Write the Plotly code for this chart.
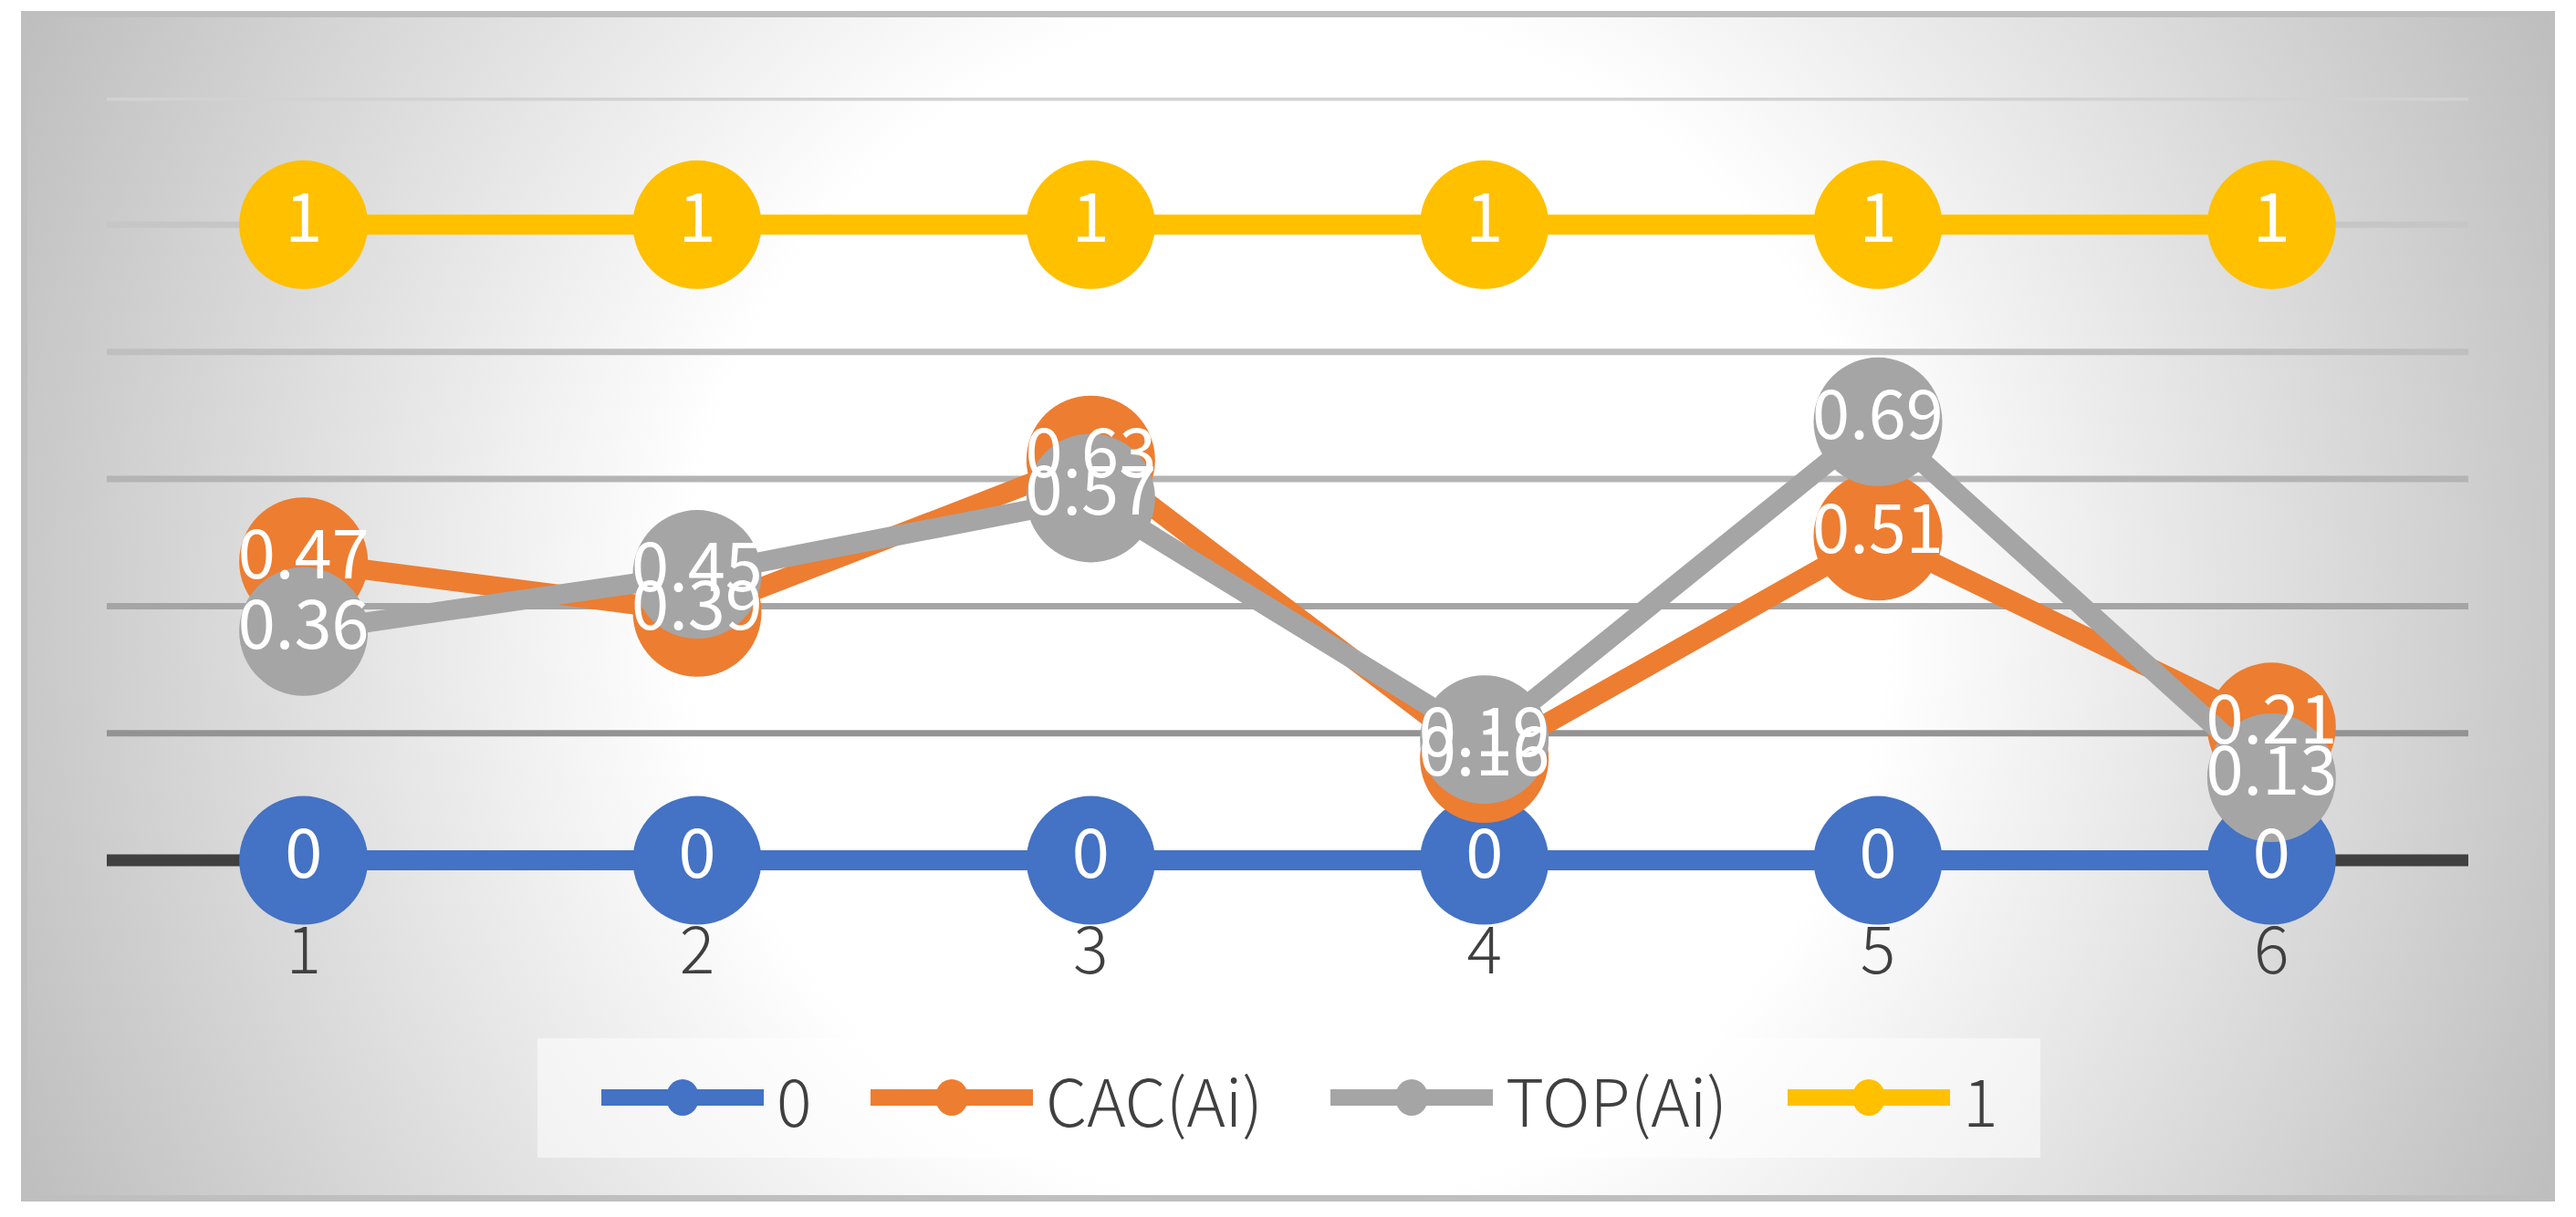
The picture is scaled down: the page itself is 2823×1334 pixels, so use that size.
import base64
import plotly.graph_objects as go

# ---- data ----
categories = ["1", "2", "3", "4", "5", "6"]
series_names = ["0", "CAC(Ai)", "TOP(Ai)", "1"]
zero_vals = [0, 0, 0, 0, 0, 0]
cac_vals = [0.47, 0.39, 0.63, 0.16, 0.51, 0.21]
top_vals = [0.36, 0.45, 0.57, 0.19, 0.69, 0.13]
one_vals = [1, 1, 1, 1, 1, 1]
y_ticks = [0, 0.2, 0.4, 0.6, 0.8, 1.0, 1.2]

series_values = [zero_vals, cac_vals, top_vals, one_vals]
series_colors = ["#4472C4", "#ED7D31", "#A5A5A5", "#FFC000"]
grid_colors = ["#404040", "#939393", "#a5a5a5", "#b4b4b4", "#bfbfbf", "#c6c6c6", "#d2d2d2"]

W, H = 2823, 1334
Y_LOW = -0.03          # small headroom below 0 so the 0-series line is not clipped
UNIT_PX = 697          # pixels per 1.0 on the value axis
ML, MR, MT = 117, 118, 107
MB = 391 - round(-Y_LOW * UNIT_PX)
PW, PH = W - ML - MR, H - MT - MB
FONT = "Noto Sans CJK SC"


def px_x(px):
    return (px - ML) / PW


def px_y(py):
    return (H - MB - py) / PH


svg = f'''<svg xmlns="http://www.w3.org/2000/svg" width="{W}" height="{H}" viewBox="0 0 {W} {H}">
<defs><radialGradient id="g" cx="1411" cy="665" r="1527" gradientUnits="userSpaceOnUse">
<stop offset="0" stop-color="#ffffff"/><stop offset="0.43" stop-color="#ffffff"/>
<stop offset="1" stop-color="#bebebe"/></radialGradient></defs>
<rect x="0" y="0" width="{W}" height="{H}" fill="#ffffff"/>
<rect x="26.5" y="15.5" width="2770" height="1298" fill="url(#g)" stroke="#bfbfbf" stroke-width="7"/>
</svg>'''
bg_uri = "data:image/svg+xml;base64," + base64.b64encode(svg.encode()).decode()

fig = go.Figure()

for name, vals, col in zip(series_names, series_values, series_colors):
    fig.add_trace(go.Scatter(
        x=categories, y=vals, name=name, mode="lines+markers",
        line=dict(color=col, width=22),
        marker=dict(color=col, size=141, line=dict(width=0)),
        cliponaxis=False, showlegend=False,
    ))

for name, vals in zip(series_names, series_values):
    fig.add_trace(go.Scatter(
        x=categories, y=vals, mode="text", showlegend=False,
        text=[f"{v:g}" for v in vals], textposition="middle center",
        textfont=dict(family=FONT, size=74, color="#ffffff"),
        cliponaxis=False, hoverinfo="skip",
    ))

# gridlines and category axis line
for tv, gc in zip(y_ticks, grid_colors):
    fig.add_shape(type="line", xref="paper", x0=0, x1=1, yref="y", y0=tv, y1=tv,
                  line=dict(color=gc, width=13 if tv == 0 else 7), layer="below")

fig.add_layout_image(dict(
    source=bg_uri, xref="paper", yref="paper",
    x=-ML / PW, y=(H - MB) / PH, sizex=W / PW, sizey=H / PH,
    xanchor="left", yanchor="top", sizing="stretch", layer="below",
))

# ---- custom legend ----
leg_box = (589, 1138, 2236, 1269)
leg_cy = 1203
leg_sym_left = [659, 954, 1458, 1959]
leg_sym_w = 178
fig.add_shape(type="rect", xref="paper", yref="paper",
              x0=px_x(leg_box[0]), x1=px_x(leg_box[2]),
              y0=px_y(leg_box[3]), y1=px_y(leg_box[1]),
              fillcolor="rgba(255,255,255,0.5)", line=dict(width=0), layer="below")
for name, col, sx in zip(series_names, series_colors, leg_sym_left):
    fig.add_shape(type="line", xref="paper", yref="paper",
                  x0=px_x(sx), x1=px_x(sx + leg_sym_w), y0=px_y(leg_cy), y1=px_y(leg_cy),
                  line=dict(color=col, width=18), layer="above")
    fig.add_shape(type="circle", xref="paper", yref="paper",
                  xsizemode="pixel", ysizemode="pixel",
                  xanchor=px_x(sx + leg_sym_w / 2), yanchor=px_y(leg_cy),
                  x0=-18, x1=18, y0=-20, y1=20,
                  fillcolor=col, line=dict(width=0), layer="above")
    fig.add_annotation(xref="paper", yref="paper", x=px_x(sx + leg_sym_w + 12), y=px_y(leg_cy),
                       xanchor="left", yanchor="middle", text=name, showarrow=False,
                       font=dict(family=FONT, size=72, color="#404040", weight=300))

fig.update_layout(
    width=W, height=H,
    margin=dict(l=ML, r=MR, t=MT, b=MB, pad=0),
    paper_bgcolor="#ffffff", plot_bgcolor="rgba(0,0,0,0)",
    font=dict(family=FONT, color="#404040", size=72),
    xaxis=dict(type="category", range=[-0.5, 5.5], showgrid=False, zeroline=False,
               showline=False, ticks="",
               tickfont=dict(family=FONT, size=72, color="#404040", weight=300),
               ticklabelstandoff=30),
    yaxis=dict(range=[Y_LOW, 1.2], visible=False, showgrid=False, zeroline=False),
    showlegend=False,
)

fig.write_html("out.html", config={"displayModeBar": False},
               post_script="document.body.style.margin='0px';")
